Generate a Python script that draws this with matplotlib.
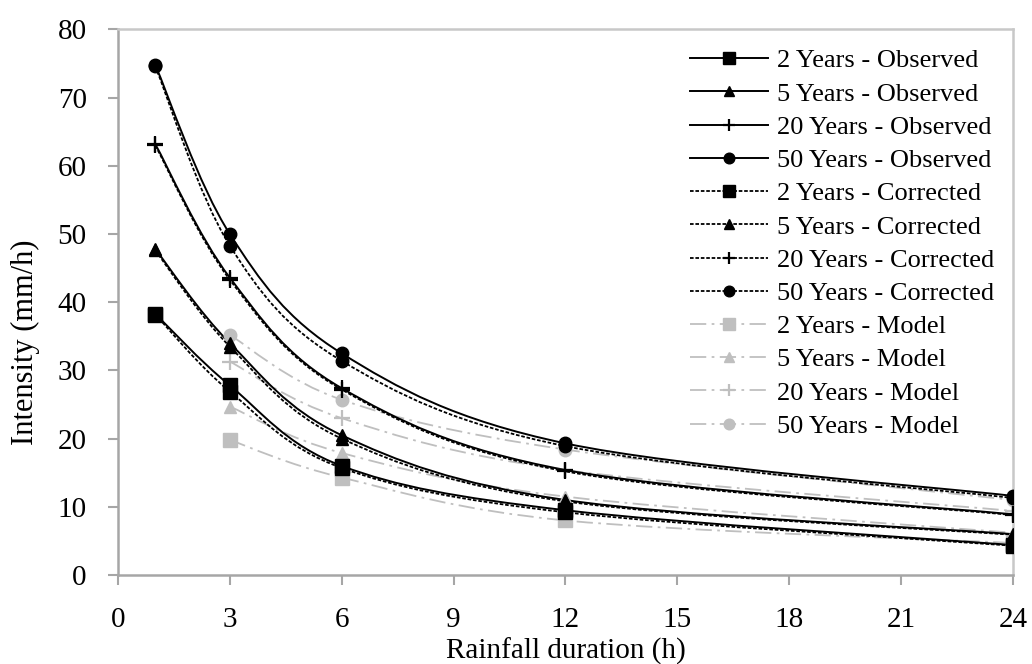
import numpy as np
import matplotlib.pyplot as plt
from matplotlib.path import Path
from matplotlib.patches import PathPatch
from matplotlib.lines import Line2D

plt.rcParams['font.family'] = ['Liberation Serif', 'DejaVu Serif']

# durations (h)
dur_obs = [1, 3, 6, 12, 24]
dur_model = [3, 6, 12, 24]

# observed intensities (mm/h)
obs_2 = [38.3, 27.8, 16.0, 9.5, 4.4]
obs_5 = [47.8, 34.0, 20.5, 11.0, 6.0]
obs_20 = [63.2, 43.6, 27.4, 15.4, 8.9]
obs_50 = [74.8, 50.0, 32.5, 19.3, 11.6]

# corrected intensities
cor_2 = [38.2, 26.9, 15.7, 9.2, 4.3]
cor_5 = [47.6, 33.5, 20.0, 10.8, 5.9]
cor_20 = [63.0, 43.3, 27.2, 15.2, 8.8]
cor_50 = [74.6, 48.3, 31.4, 18.9, 11.3]

# model intensities
mod_2 = [19.8, 14.3, 8.0, 4.7]
mod_5 = [24.7, 17.9, 11.5, 6.2]
mod_20 = [31.3, 23.0, 15.4, 9.4]
mod_50 = [35.2, 25.7, 18.4, 11.0]

periods = ['2', '5', '20', '50']
markers = ['s', '^', '+', 'o']
msizes = [10, 8, 11, 9]

GRAY = '#BFBFBF'
AX_GRAY = '#A6A6A6'


def smooth_path(x, y):
    # Excel-style smoothed line: Catmull-Rom segments as cubic Bezier curves
    p = np.column_stack([x, y]).astype(float)
    n = len(p)
    verts = [p[0]]
    codes = [Path.MOVETO]
    for i in range(n - 1):
        p0 = p[i - 1] if i > 0 else p[i]
        p3 = p[i + 2] if i + 2 < n else p[i + 1]
        c1 = p[i] + (p[i + 1] - p0) / 6
        c2 = p[i + 1] - (p3 - p[i]) / 6
        verts += [c1, c2, p[i + 1]]
        codes += [Path.CURVE4] * 3
    return Path(verts, codes)


fig, ax = plt.subplots(figsize=(10.32, 6.64), dpi=100)
fig.subplots_adjust(left=0.1143, right=0.9816, top=0.9556, bottom=0.134)

groups = [
    ('Model', dur_model, [mod_2, mod_5, mod_20, mod_50], GRAY, (0, (9, 3, 1.5, 3)), 1.3),
    ('Corrected', dur_obs, [cor_2, cor_5, cor_20, cor_50], 'black', (0, (2, 1)), 1.3),
    ('Observed', dur_obs, [obs_2, obs_5, obs_20, obs_50], 'black', '-', 1.4),
]

handles = {}
for name, xs, series, col, ls, lw in groups:
    for per, ys, m, ms in zip(periods, series, markers, msizes):
        mew = 1.6 if m == '+' else 1
        patch = PathPatch(smooth_path(xs, ys), facecolor='none', edgecolor=col,
                          linestyle=ls, linewidth=lw, zorder=2)
        ax.add_patch(patch)
        ax.plot(xs, ys, linestyle='none', marker=m, markersize=ms, color=col,
                markeredgewidth=mew, zorder=3)
        handles[(name, per)] = Line2D([], [], color=col, linestyle=ls, linewidth=lw,
                                      marker=m, markersize=ms * 0.85,
                                      markeredgewidth=mew)

order = []
labels = []
for name in ['Observed', 'Corrected', 'Model']:
    for per in periods:
        order.append(handles[(name, per)])
        labels.append(f'{per} Years - {name}')

ax.legend(order, labels, loc='upper left', bbox_to_anchor=(0.639, 0.9645),
          frameon=False, fontsize=19, handlelength=2.95, handletextpad=0.35,
          labelspacing=0.37, numpoints=1, borderaxespad=0, borderpad=0)

ax.set_xlim(0, 24)
ax.set_ylim(0, 80)
ax.set_xticks(np.arange(0, 25, 3))
ax.set_yticks(np.arange(0, 81, 10))
ax.tick_params(labelsize=21, color=AX_GRAY, length=7, width=1.5, direction='out')
ax.tick_params(axis='y', pad=15.5)
ax.tick_params(axis='x', pad=16)
for s in ax.spines.values():
    s.set_color(AX_GRAY)
    s.set_linewidth(1.8)
for s in ['top', 'right']:
    ax.spines[s].set_color('#C8C8C8')

ax.set_xlabel('Rainfall duration (h)', fontsize=21)
ax.set_ylabel('Intensity (mm/h)', fontsize=22)
ax.xaxis.set_label_coords(0.5, -0.1155)
ax.yaxis.set_label_coords(-0.087, 0.427)

fig.savefig('out.png', dpi=100)
